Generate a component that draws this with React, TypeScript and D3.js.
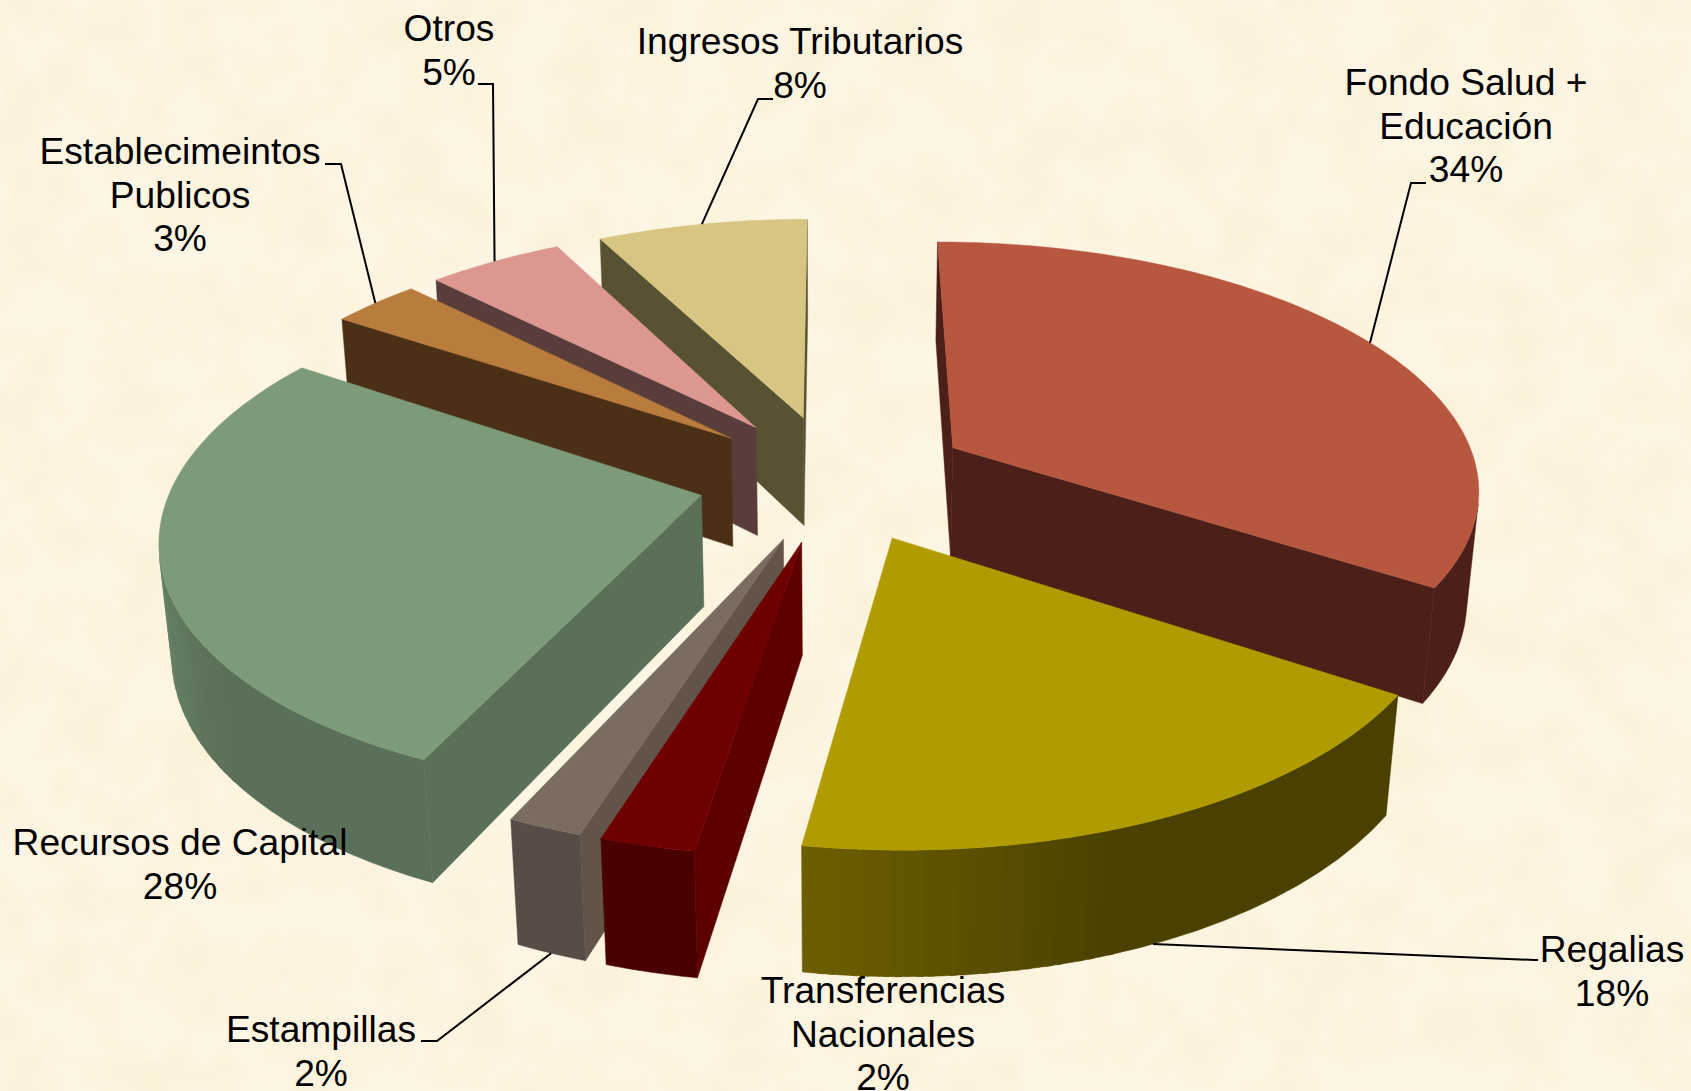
import React from "react";
import * as d3 from "d3";

// Datos (porcentajes sin redondear, estimados por el angulo de cada sector)
const categories = [
  "Fondo Salud + Educación",
  "Regalias",
  "Transferencias Nacionales",
  "Estampillas",
  "Recursos de Capital",
  "Establecimeintos Publicos",
  "Otros",
  "Ingresos Tributarios",
];
const values = [34.2, 18.3, 2.4, 1.9, 27.5, 3.2, 4.9, 7.6];

const topColors = ["#B85740", "#B09C00", "#700000", "#7A6C60", "#7D9A7A", "#B87C3C", "#DC9890", "#D6C682"];
const wallColors = ["#4C2018", "#4A4000", "#5C0000", "#625448", "#5A7058", "#4C3016", "#5A3C3A", "#585232"];
// Rampa de la pared curva: [angulo en grados, color]
const rimRamps: [number, string][][] = [
  [[0, "#4C2018"], [360, "#4C2018"]],
  [[123, "#4A4000"], [160, "#4A4000"], [190, "#6E6000"]],
  [[189, "#4A0000"], [199, "#4A0000"]],
  [[198, "#584C46"], [205, "#584C46"]],
  [[205, "#5A7058"], [232, "#5A7058"], [270, "#708C6E"], [304, "#7D9A7A"]],
  [[304, "#4C3016"], [315, "#4C3016"]],
  [[315, "#5A3C3A"], [333, "#5A3C3A"]],
  [[333, "#585232"], [360, "#585232"]],
];

const labelLines = [
  ["Fondo Salud +", "Educación"],
  ["Regalias"],
  ["Transferencias", "Nacionales"],
  ["Estampillas"],
  ["Recursos de Capital"],
  ["Establecimeintos", "Publicos"],
  ["Otros"],
  ["Ingresos Tributarios"],
];

// Posicion de las etiquetas: centro x, linea base de la primera linea
const labelPos = [
  [1466, 95], [1612, 962], [883, 1003], [321, 1042],
  [180, 855], [180, 164], [449, 41], [800, 54],
];
// Codo de las lineas guia (null = sin linea); el otro extremo sale del borde del sector
const leaderElbows: ([number, number][] | null)[] = [
  [[1411, 183], [1426, 183]],
  [[1534, 960], [1538, 960]],
  null,
  [[437, 1041], [421, 1041]],
  null,
  [[341, 164], [325, 164]],
  [[493, 84], [478, 84]],
  [[758, 99], [773, 99]],
];
const leaderOnBottom = [false, true, false, true, false, false, false, false];

const W = 1691;
const H = 1091;
const CX = 834.5;
const CY = 477.5;
const RADIUS = 527;
const EXPLODE = 137;
const DEPTH = 127;
const TILT = Math.asin(0.465);
const CAM = 3100;
const STEP = (1 * Math.PI) / 180;
const BAND = (1.5 * Math.PI) / 180;

// Proyeccion con perspectiva: X derecha, Z hacia el fondo, yd hacia abajo
const project = (X: number, Z: number, yd: number): [number, number] => {
  const s = CAM / (CAM + Z * Math.cos(TILT) + yd * Math.sin(TILT));
  return [CX + X * s, CY - (Z * Math.sin(TILT) - yd * Math.cos(TILT)) * s];
};

const pathOf = d3.line();
const closed = (pts: [number, number][]) => pathOf(pts) + "Z";

const arcs = d3.pie<number>().sort(null).value((d) => d)(values);

const slices = arcs.map((a, i) => {
  const mid = (a.startAngle + a.endAngle) / 2;
  const ox = EXPLODE * Math.sin(mid);
  const oz = EXPLODE * Math.cos(mid);
  const rim = (t: number, yd: number) =>
    project(ox + RADIUS * Math.sin(t), oz + RADIUS * Math.cos(t), yd);
  const apex = (yd: number) => project(ox, oz, yd);
  const n = Math.max(2, Math.ceil((a.endAngle - a.startAngle) / STEP));
  const angles = d3.range(n + 1).map((k) => a.startAngle + ((a.endAngle - a.startAngle) * k) / n);
  const ramp = d3
    .scaleLinear<string>()
    .domain(rimRamps[i].map((d) => d[0]))
    .range(rimRamps[i].map((d) => d[1]))
    .clamp(true);

  const faces: { d: string; fill: string }[] = [];
  const addFace = (pts: [number, number][], fill: string) => {
    if (d3.polygonArea(pts) > 0) faces.push({ d: closed(pts), fill });
  };
  // paredes radiales
  addFace([apex(0), rim(a.startAngle, 0), rim(a.startAngle, DEPTH), apex(DEPTH)], wallColors[i]);
  addFace([rim(a.endAngle, 0), apex(0), apex(DEPTH), rim(a.endAngle, DEPTH)], wallColors[i]);

  // pared curva: tiras visibles agrupadas en bandas de un mismo color, cada banda
  // pisa a la siguiente para que no queden costuras
  const stripVisible = (t0: number, t1: number) =>
    d3.polygonArea([rim(t0, 0), rim(t1, 0), rim(t1, DEPTH), rim(t0, DEPTH)]) > 0;
  const bandColor = (t: number) =>
    d3.rgb(ramp(((Math.floor(t / BAND) + 0.5) * BAND * 180) / Math.PI)).formatHex();
  const strips = d3.pairs(angles).filter(([t0, t1]) => stripVisible(t0, t1));
  const bands: { from: number; to: number; fill: string }[] = [];
  strips.forEach(([t0, t1]) => {
    const fill = bandColor((t0 + t1) / 2);
    const last = bands[bands.length - 1];
    if (last && last.fill === fill) last.to = t1;
    else bands.push({ from: t0, to: t1, fill });
  });
  bands.forEach((b, k) => {
    const end = k < bands.length - 1 ? bands[k + 1].from + STEP * 0.6 : b.to;
    const ts = d3.range(0, 13).map((q) => b.from + ((end - b.from) * q) / 12);
    const pts = [...ts.map((t) => rim(t, 0)), ...ts.slice().reverse().map((t) => rim(t, DEPTH))];
    faces.push({ d: closed(pts), fill: b.fill });
  });

  return {
    i,
    oz,
    faces,
    top: closed([apex(0), ...angles.map((t) => rim(t, 0))]),
    anchor: rim(mid, leaderOnBottom[i] ? DEPTH : 0),
  };
});

// De atras hacia adelante
const drawOrder = [...slices].sort((a, b) => d3.descending(a.oz, b.oz));

const LINE_H = 43.5;

export default function App() {
  return (
    <svg
      width={W}
      height={H}
      viewBox={`0 0 ${W} ${H}`}
      style={{ position: "fixed", left: 0, top: 0, display: "block" }}
      fontFamily="'Liberation Sans', Arial, sans-serif"
    >
      <defs>
        <filter id="parchment" x="0" y="0" width="100%" height="100%">
          <feTurbulence type="fractalNoise" baseFrequency="0.018" numOctaves="4" seed="7" />
          <feColorMatrix
            type="matrix"
            values="0 0 0 0 0.96  0 0 0 0 0.86  0 0 0 0 0.64  1.3 0 0 0 -0.5"
          />
        </filter>
      </defs>
      <rect width={W} height={H} fill="#FDF5E3" />
      <rect width={W} height={H} filter="url(#parchment)" />

      {drawOrder.map((s) => (
        <g key={categories[s.i]}>
          {s.faces.map((f, k) => (
            <path key={k} d={f.d} fill={f.fill} stroke={f.fill} strokeWidth={0.5} />
          ))}
          <path d={s.top} fill={topColors[s.i]} stroke={topColors[s.i]} strokeWidth={0.4} />
        </g>
      ))}

      {slices.map((s) => {
        const elbow = leaderElbows[s.i];
        if (!elbow) return null;
        return (
          <path
            key={s.i}
            d={pathOf([s.anchor, ...elbow]) as string}
            fill="none"
            stroke="#000"
            strokeWidth={2}
          />
        );
      })}

      {labelLines.map((lines, i) => (
        <text key={i} x={labelPos[i][0]} y={labelPos[i][1]} textAnchor="middle" fontSize={37.2} fill="#000">
          {[...lines, `${Math.round(values[i])}%`].map((t, k) => (
            <tspan key={k} x={labelPos[i][0]} dy={k === 0 ? 0 : LINE_H}>
              {t}
            </tspan>
          ))}
        </text>
      ))}
    </svg>
  );
}
